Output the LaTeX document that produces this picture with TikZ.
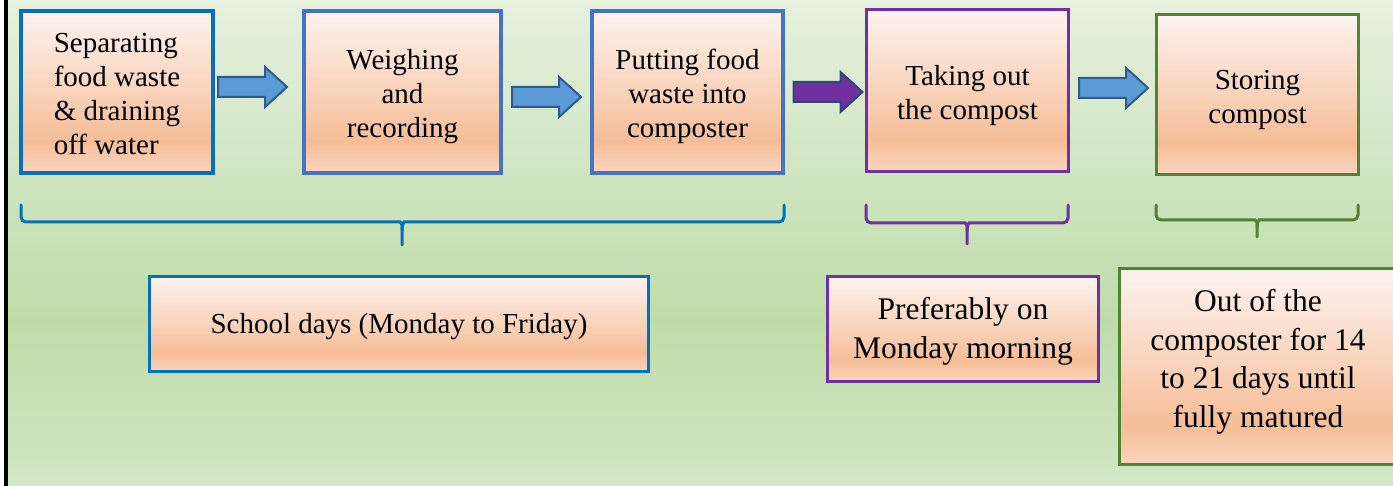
\documentclass[tikz,border=0pt]{standalone}
\usepackage{fontspec}
\setmainfont{Liberation Serif}
\usetikzlibrary{calc}
\definecolor{bgTop}{HTML}{E6F1DE}
\definecolor{bgUp}{HTML}{D3E7C6}
\definecolor{bgMid}{HTML}{BEDCA8}
\definecolor{bgBot}{HTML}{D2E6C4}
\definecolor{pkTop}{HTML}{FDF3EF}
\definecolor{pkUp}{HTML}{FBE2D4}
\definecolor{pkMid}{HTML}{F8CDB1}
\definecolor{pkDeep}{HTML}{F5BD97}
\definecolor{pkBot}{HTML}{F9D5BF}
\definecolor{cBlueA}{HTML}{0070C0}
\definecolor{cBlueB}{HTML}{4472C4}
\definecolor{cPurple}{HTML}{7030A0}
\definecolor{cGreen}{HTML}{548235}
\definecolor{arrFill}{HTML}{5B9BD5}
\definecolor{arrLine}{HTML}{2E5A8C}
\definecolor{arrLineP}{HTML}{2B4A7A}
\pgfdeclareverticalshading{bggreen}{100bp}{color(0bp)=(bgBot); color(25bp)=(bgBot); color(42bp)=(bgMid); color(60bp)=(bgUp); color(75bp)=(bgTop); color(100bp)=(bgTop)}
\pgfdeclareverticalshading{peach}{100bp}{color(0bp)=(pkBot); color(25bp)=(pkBot); color(35bp)=(pkDeep); color(46bp)=(pkMid); color(62bp)=(pkUp); color(75bp)=(pkTop); color(100bp)=(pkTop)}
\tikzset{
  box/.style={shade, shading=peach, line width=3.5pt, inner sep=0pt},
  txt/.style={inner sep=0pt, align=center, font=\fontsize{29}{34}\selectfont},
  bigtxt/.style={inner sep=0pt, align=center, font=\fontsize{31.5}{38.5}\selectfont},
  brace/.style={line width=3pt, rounded corners=5pt, line cap=round},
  pics/blockarrow/.style={code={
    \draw[pic actions] (-34,-10) -- (13,-10) -- (13,-20) -- (35,0) -- (13,20) -- (13,10) -- (-34,10) -- cycle;}},
  barrow/.style={fill=arrFill, draw=arrLine, line width=2pt, line join=miter},
  parrow/.style={fill=cPurple, draw=arrLineP, line width=2pt, line join=miter}
}
\begin{document}
\begin{tikzpicture}[x=1pt,y=-1pt]
\useasboundingbox (0,0) rectangle (1393,486);
\shade[shading=bggreen] (8,0) rectangle (1393,486);
\fill[white] (0,0) rectangle (4,486);
\draw[line width=3.5pt, black] (6,0) -- (6,486);

% top row boxes
\node[box, draw=cBlueA, minimum width=192pt, minimum height=162pt] (b1) at (117,92) {};
\node[box, draw=cBlueB, minimum width=197pt, minimum height=162pt] (b2) at (402.5,92) {};
\node[box, draw=cBlueB, minimum width=191pt, minimum height=162pt] (b3) at (687.5,92) {};
\node[box, draw=cPurple, minimum width=202pt, minimum height=162pt] (b4) at (967.5,90.5) {};
\node[box, draw=cGreen, minimum width=202pt, minimum height=160pt] (b5) at (1257.5,94.5) {};

\node[txt, align=left] (b1t) at ($(b1.center)+(0,2.5)$) {Separating\\food waste\\\& draining\\off water};
\node[txt] (b2t) at ($(b2.center)+(0,4.5)$) {Weighing\\and\\recording};
\node[txt] (b3t) at ($(b3.center)+(0,4.5)$) {Putting food\\waste into\\composter};
\node[txt] (b4t) at ($(b4.center)+(0,5)$) {Taking out\\the compost};
\node[txt] (b5t) at ($(b5.center)+(0,5)$) {Storing\\compost};

% block arrows
\pic[barrow] (a1) at (252,87) {blockarrow};
\pic[barrow] (a2) at (546,97) {blockarrow};
\pic[parrow] (a3) at (827.5,92) {blockarrow};
\pic[barrow] (a4) at (1113,88) {blockarrow};

% braces
\draw[brace, draw=cBlueA] (21,205) |- (395,222) .. controls (400,222) and (402,224) .. (402,230) -- (402,245);
\draw[brace, draw=cBlueA] (784,205) |- (409,222) .. controls (404,222) and (402,224) .. (402,230);
\draw[brace, draw=cPurple] (866,205) |- (960,223) .. controls (965,223) and (967,225) .. (967,231) -- (967,244);
\draw[brace, draw=cPurple] (1068,205) |- (974,223) .. controls (969,223) and (967,225) .. (967,231);
\draw[brace, draw=cGreen] (1156,205) |- (1250,220) .. controls (1255,220) and (1257,222) .. (1257,227) -- (1257,237);
\draw[brace, draw=cGreen] (1358,205) |- (1264,220) .. controls (1259,220) and (1257,222) .. (1257,227);

% bottom boxes
\node[box, draw=cBlueA, minimum width=499pt, minimum height=95pt] (s1) at (399,324) {};
\node[box, draw=cPurple, minimum width=271pt, minimum height=105pt] (s2) at (963,329) {};
\node[box, draw=cGreen, minimum width=277pt, minimum height=196pt] (s3) at (1258,366.5) {};

\node[txt] (s1t) at ($(s1.center)+(0,3)$) {School days (Monday to Friday)};
\node[bigtxt] (s2t) at ($(s2.center)+(0,2.5)$) {Preferably on\\Monday morning};
\node[bigtxt] (s3t) at ($(s3.center)+(0,-4.5)$) {Out of the\\composter for 14\\to 21 days until\\fully matured};
\end{tikzpicture}
\end{document}
